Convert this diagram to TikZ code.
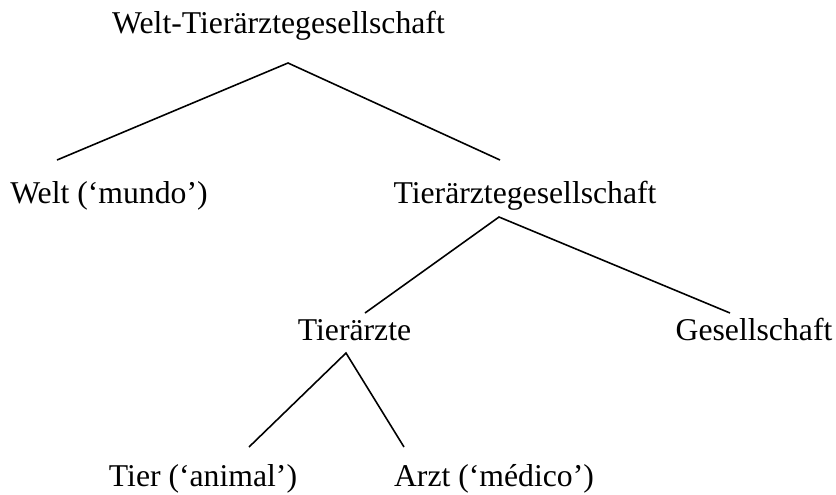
\documentclass[tikz,border=0pt]{standalone}
\usepackage{fontspec}
\setmainfont{Liberation Serif}
\usepackage{tikz}

\tikzset{
    word/.style={inner sep=0pt, anchor=base, font=\fontsize{12}{14}\selectfont},
    branch/.style={line width=0.6pt}
}

\begin{document}
\begin{tikzpicture}[x=0.3785pt, y=-0.3785pt]
        \useasboundingbox (0, 0) rectangle (836, 494);
        \node[word] (wtg) at (278.5, 33) {Welt-Tierärztegesellschaft};
        \node[word] (welt) at (109, 203) {Welt (‘mundo’)};
        \node[word] (tgs) at (525, 203) {Tierärztegesellschaft};
        \node[word] (ta) at (354.5, 340) {Tierärzte};
        \node[word] (ges) at (754, 340) {Gesellschaft};
        \node[word] (tier) at (203, 486) {Tier (‘animal’)};
        \node[word] (arzt) at (494, 486) {Arzt (‘médico’)};
        % branch points below and above the words
        \coordinate (wtg-b) at (288, 63);
        \coordinate (welt-t) at (57, 160);
        \coordinate (tgs-t) at (500, 160);
        \coordinate (tgs-b) at (499, 217);
        \coordinate (ta-t) at (365, 313);
        \coordinate (ges-t) at (730, 313);
        \coordinate (ta-b) at (346, 353);
        \coordinate (tier-t) at (249, 447);
        \coordinate (arzt-t) at (404, 447);
        \foreach \p/\l/\r in {wtg/welt/tgs, tgs/ta/ges, ta/tier/arzt} {
            \draw[branch] (\l-t) -- (\p-b) -- (\r-t);
        }
    \end{tikzpicture}
\end{document}
